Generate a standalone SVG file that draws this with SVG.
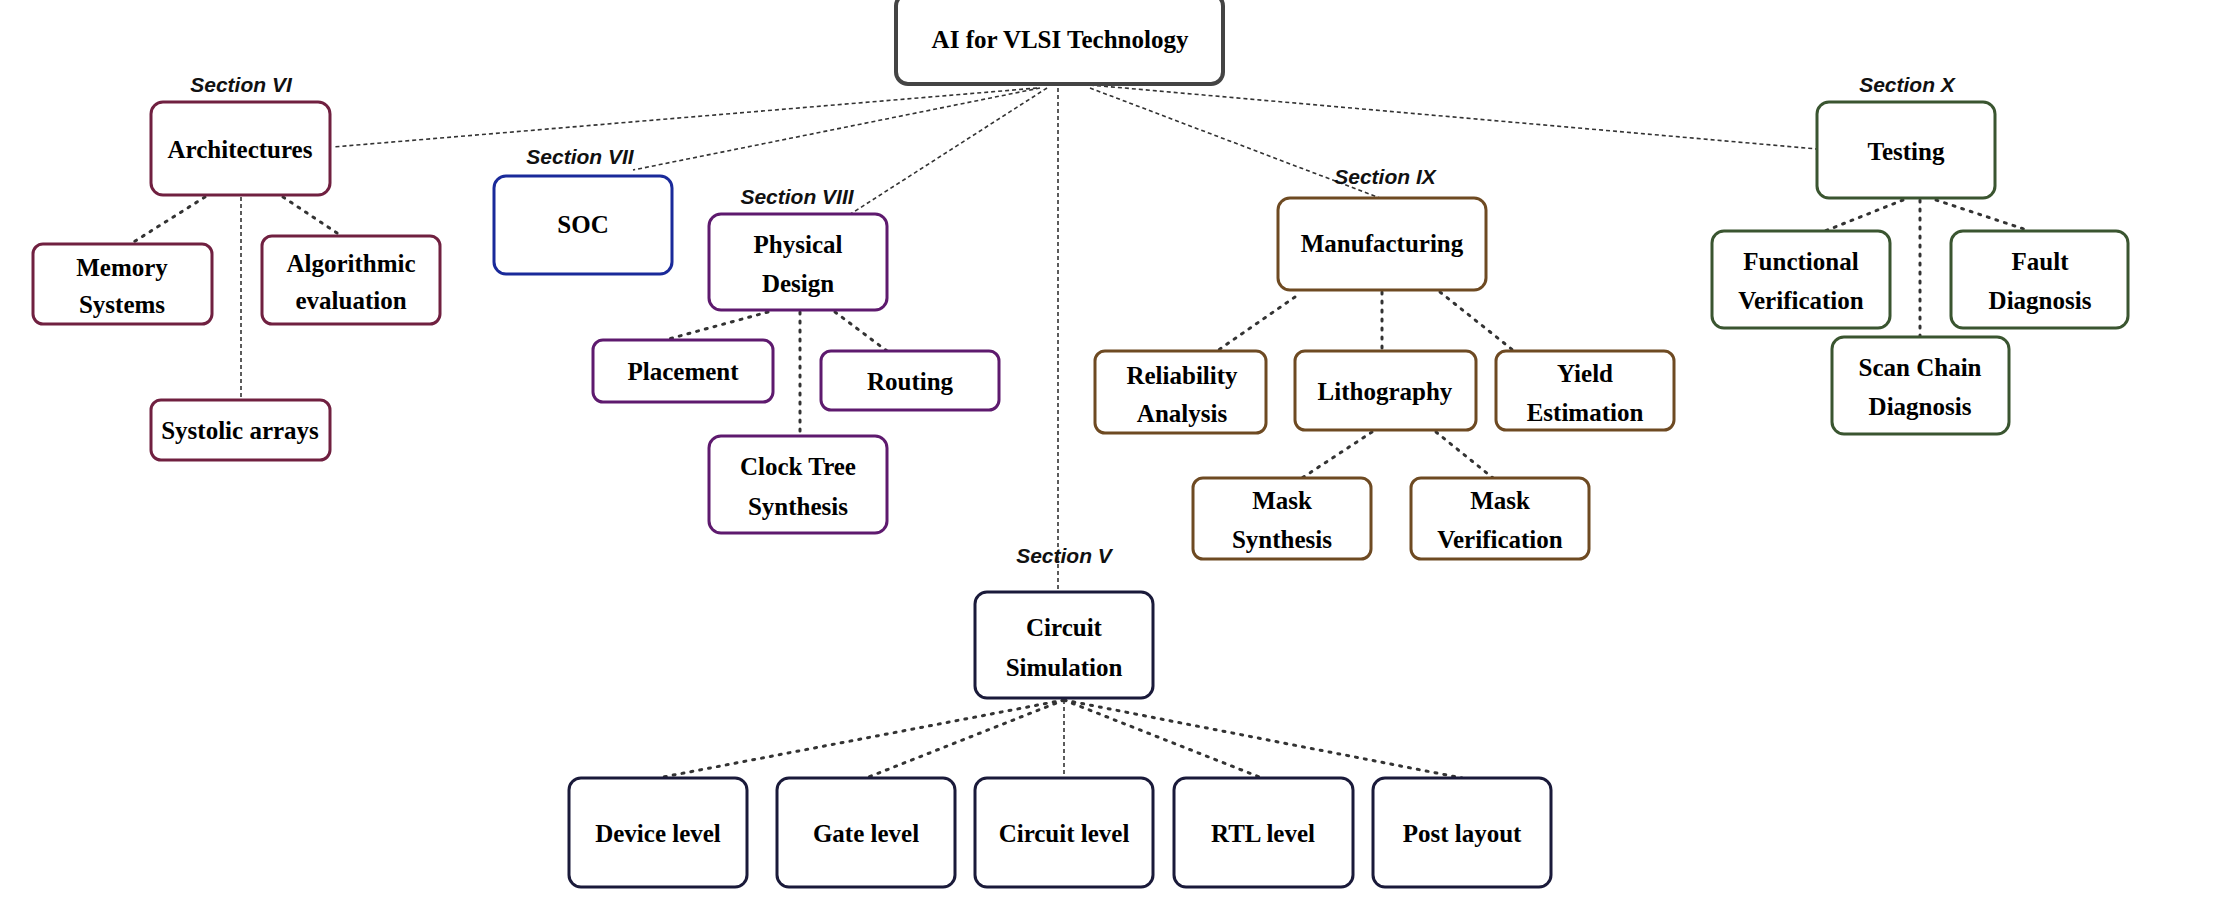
<svg xmlns="http://www.w3.org/2000/svg" width="2219" height="921" viewBox="0 0 2219 921">
<style>
rect{fill:#fff;stroke-width:3}
.t{font-family:"Liberation Serif",serif;font-weight:bold;font-size:25px;text-anchor:middle;fill:#000}
.s{font-family:"Liberation Sans",sans-serif;font-style:italic;font-weight:bold;font-size:21px;text-anchor:middle;fill:#111}
.m{stroke:#702040}.b{stroke:#1a2a9a}.p{stroke:#5e1a6e}.o{stroke:#6e4a22}.g{stroke:#3a5530}.n{stroke:#1a1a3a}
#conn line{stroke:#333;fill:none}
.r{stroke-width:1.6;stroke-dasharray:4 3}
.d{stroke-width:3;stroke-dasharray:2 7;stroke-linecap:round}
</style>
<rect width="2219" height="921" style="fill:#fff;stroke:none"/>
<g id="conn">
<line class="r" x1="1037" y1="88" x2="333" y2="147"/>
<line class="r" x1="1040" y1="88" x2="633" y2="170"/>
<line class="r" x1="1047" y1="88" x2="849" y2="215"/>
<line class="r" x1="1058" y1="88" x2="1058" y2="591"/>
<line class="r" x1="1090" y1="88" x2="1380" y2="198"/>
<line class="r" x1="1090" y1="85" x2="1817" y2="149"/>
<line class="d" x1="205" y1="197" x2="132" y2="243"/>
<line class="r" x1="241" y1="197" x2="241" y2="400"/>
<line class="d" x1="283" y1="197" x2="340" y2="235"/>
<line class="d" x1="768" y1="312" x2="665" y2="340"/>
<line class="d" x1="800" y1="312" x2="800" y2="436"/>
<line class="d" x1="835" y1="312" x2="887" y2="351"/>
<line class="d" x1="1295" y1="297" x2="1217" y2="351"/>
<line class="d" x1="1382" y1="292" x2="1382" y2="351"/>
<line class="d" x1="1440" y1="292" x2="1514" y2="351"/>
<line class="d" x1="1372" y1="432" x2="1302" y2="478"/>
<line class="d" x1="1436" y1="432" x2="1493" y2="478"/>
<line class="d" x1="1903" y1="200" x2="1825" y2="231"/>
<line class="d" x1="1920" y1="200" x2="1920" y2="337"/>
<line class="d" x1="1936" y1="200" x2="2030" y2="231"/>
<line class="d" x1="1064" y1="700" x2="658" y2="778"/>
<line class="d" x1="1064" y1="700" x2="866" y2="778"/>
<line class="r" x1="1064" y1="700" x2="1064" y2="778"/>
<line class="d" x1="1064" y1="700" x2="1262" y2="778"/>
<line class="d" x1="1064" y1="700" x2="1462" y2="778"/>
</g>
<g id="root"><rect x="896" y="-6" width="327" height="90" rx="12" style="stroke:#444;stroke-width:4"/><text class="t" x="1060" y="48">AI for VLSI Technology</text></g>
<g id="arch"><text class="s" x="241" y="92">Section VI</text><rect class="m" x="151" y="102" width="179" height="93" rx="12"/><text class="t" x="240" y="158">Architectures</text></g>
<g id="mem"><rect class="m" x="33" y="244" width="179" height="80" rx="10"/><text class="t" x="122" y="276">Memory</text><text class="t" x="122" y="313">Systems</text></g>
<g id="algo"><rect class="m" x="262" y="236" width="178" height="88" rx="10"/><text class="t" x="351" y="272">Algorithmic</text><text class="t" x="351" y="309">evaluation</text></g>
<g id="sys"><rect class="m" x="151" y="400" width="179" height="60" rx="10"/><text class="t" x="240" y="439">Systolic arrays</text></g>
<g id="soc"><text class="s" x="580" y="164">Section VII</text><rect class="b" x="494" y="176" width="178" height="98" rx="12"/><text class="t" x="583" y="233">SOC</text></g>
<g id="phys"><text class="s" x="797" y="204">Section VIII</text><rect class="p" x="709" y="214" width="178" height="96" rx="12"/><text class="t" x="798" y="253">Physical</text><text class="t" x="798" y="292">Design</text></g>
<g id="place"><rect class="p" x="593" y="340" width="180" height="62" rx="10"/><text class="t" x="683" y="380">Placement</text></g>
<g id="route"><rect class="p" x="821" y="351" width="178" height="59" rx="10"/><text class="t" x="910" y="390">Routing</text></g>
<g id="cts"><rect class="p" x="709" y="436" width="178" height="97" rx="12"/><text class="t" x="798" y="475">Clock Tree</text><text class="t" x="798" y="515">Synthesis</text></g>
<g id="mfg"><text class="s" x="1385" y="184">Section IX</text><rect class="o" x="1278" y="198" width="208" height="92" rx="12"/><text class="t" x="1382" y="252">Manufacturing</text></g>
<g id="rel"><rect class="o" x="1095" y="351" width="171" height="82" rx="10"/><text class="t" x="1182" y="384">Reliability</text><text class="t" x="1182" y="422">Analysis</text></g>
<g id="litho"><rect class="o" x="1295" y="351" width="181" height="79" rx="10"/><text class="t" x="1385" y="400">Lithography</text></g>
<g id="yield"><rect class="o" x="1496" y="351" width="178" height="79" rx="10"/><text class="t" x="1585" y="382">Yield</text><text class="t" x="1585" y="421">Estimation</text></g>
<g id="msyn"><rect class="o" x="1193" y="478" width="178" height="81" rx="10"/><text class="t" x="1282" y="509">Mask</text><text class="t" x="1282" y="548">Synthesis</text></g>
<g id="mver"><rect class="o" x="1411" y="478" width="178" height="81" rx="10"/><text class="t" x="1500" y="509">Mask</text><text class="t" x="1500" y="548">Verification</text></g>
<g id="test"><text class="s" x="1907" y="92">Section X</text><rect class="g" x="1817" y="102" width="178" height="96" rx="12"/><text class="t" x="1906" y="160">Testing</text></g>
<g id="func"><rect class="g" x="1712" y="231" width="178" height="97" rx="12"/><text class="t" x="1801" y="270">Functional</text><text class="t" x="1801" y="309">Verification</text></g>
<g id="fault"><rect class="g" x="1951" y="231" width="177" height="97" rx="12"/><text class="t" x="2040" y="270">Fault</text><text class="t" x="2040" y="309">Diagnosis</text></g>
<g id="scan"><rect class="g" x="1832" y="337" width="177" height="97" rx="12"/><text class="t" x="1920" y="376">Scan Chain</text><text class="t" x="1920" y="415">Diagnosis</text></g>
<g id="csim"><text class="s" x="1064" y="563">Section V</text><rect class="n" x="975" y="592" width="178" height="106" rx="12"/><text class="t" x="1064" y="636">Circuit</text><text class="t" x="1064" y="676">Simulation</text></g>
<g id="dev"><rect class="n" x="569" y="778" width="178" height="109" rx="12"/><text class="t" x="658" y="842">Device level</text></g>
<g id="gate"><rect class="n" x="777" y="778" width="178" height="109" rx="12"/><text class="t" x="866" y="842">Gate level</text></g>
<g id="circ"><rect class="n" x="975" y="778" width="178" height="109" rx="12"/><text class="t" x="1064" y="842">Circuit level</text></g>
<g id="rtl"><rect class="n" x="1174" y="778" width="179" height="109" rx="12"/><text class="t" x="1263" y="842">RTL level</text></g>
<g id="post"><rect class="n" x="1373" y="778" width="178" height="109" rx="12"/><text class="t" x="1462" y="842">Post layout</text></g>
</svg>
